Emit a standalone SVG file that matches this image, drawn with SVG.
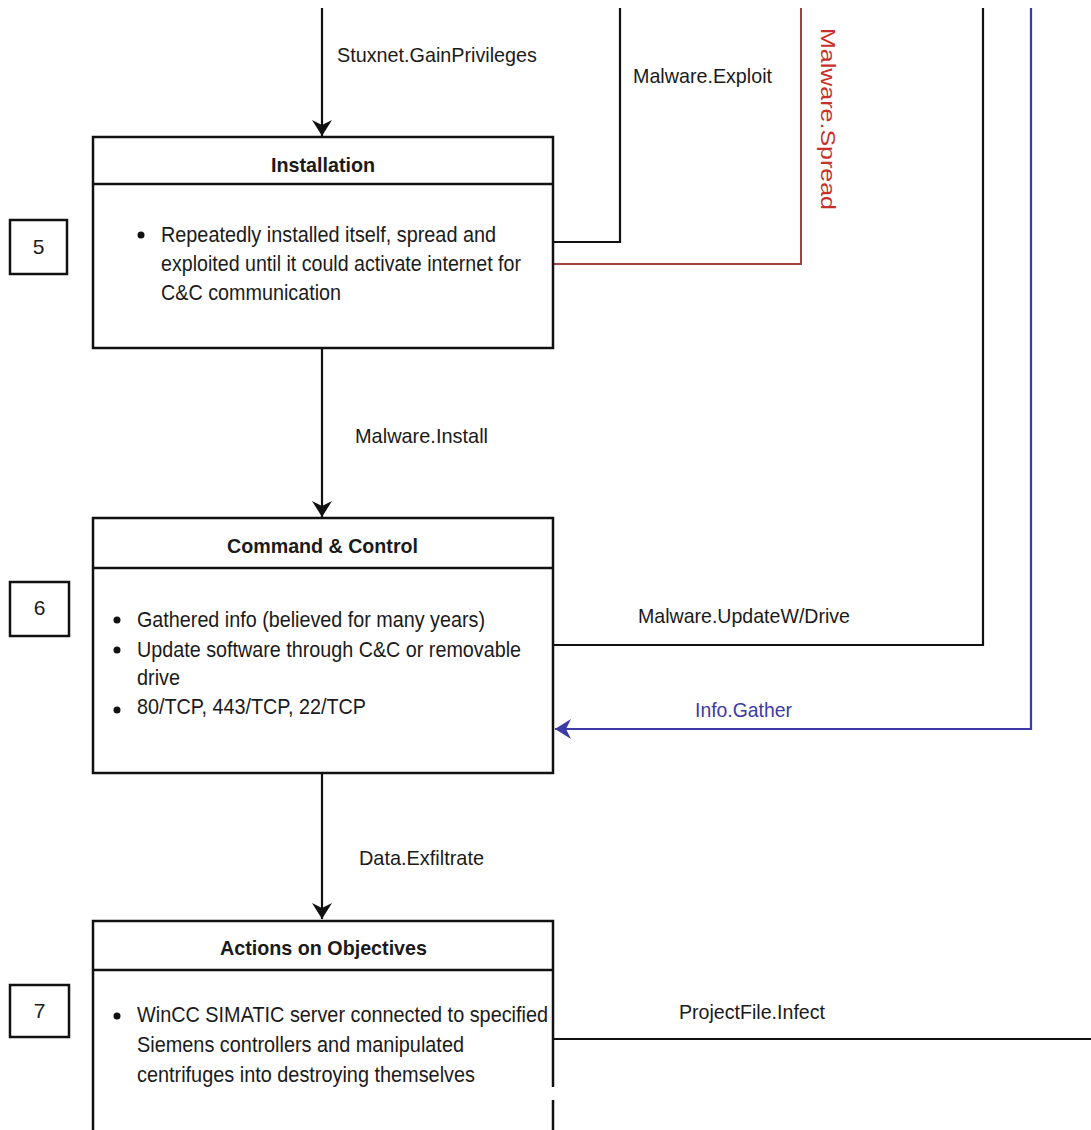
<svg xmlns="http://www.w3.org/2000/svg" width="1091" height="1130" viewBox="0 0 1091 1130">
  <style>
    text { font-family: "Liberation Sans", Arial, sans-serif; fill: #1a1a1a; }
    .title { font-size: 21px; font-weight: bold; }
    .body { font-size: 22px; }
    .lbl { font-size: 21px; }
    .num { font-size: 21px; text-anchor: middle; }
    .box { fill: #fff; stroke: #111; stroke-width: 2.5; }
    .div { stroke: #111; stroke-width: 2.5; }
    .wire { fill: none; stroke: #111; stroke-width: 2.2; }
    .red { fill: none; stroke: #a5403e; stroke-width: 2; }
    .blue { fill: none; stroke: #3b3ba6; stroke-width: 2.2; }
  </style>
  <defs>
    <marker id="arrowBlack" viewBox="0 0 16 20" refX="16" refY="10" markerWidth="16" markerHeight="20" markerUnits="userSpaceOnUse" orient="auto">
      <path d="M0,0 L16,10 L0,20 L5,10 Z" fill="#111"/>
    </marker>
    <marker id="arrowBlue" viewBox="0 0 16 20" refX="16" refY="10" markerWidth="16" markerHeight="20" markerUnits="userSpaceOnUse" orient="auto">
      <path d="M0,0 L16,10 L0,20 L5,10 Z" fill="#3b3ba6"/>
    </marker>
  </defs>
  <rect width="1091" height="1130" fill="#fff"/>

  <!-- connectors -->
  <g id="connectors">
    <line class="wire" x1="322" y1="8" x2="322" y2="136" marker-end="url(#arrowBlack)"/>
    <text class="lbl" x="337" y="62" textLength="200" lengthAdjust="spacingAndGlyphs">Stuxnet.GainPrivileges</text>

    <polyline class="wire" points="620,8 620,242 553,242"/>
    <text class="lbl" x="633" y="83" textLength="139" lengthAdjust="spacingAndGlyphs">Malware.Exploit</text>

    <polyline class="red" points="801,8 801,264 553,264"/>
    <text class="lbl" transform="translate(821,28) rotate(90)" textLength="182" lengthAdjust="spacingAndGlyphs" style="fill:#c8302c">Malware.Spread</text>

    <line class="wire" x1="322" y1="348" x2="322" y2="517" marker-end="url(#arrowBlack)"/>
    <text class="lbl" x="355" y="443" textLength="133" lengthAdjust="spacingAndGlyphs">Malware.Install</text>

    <polyline class="wire" points="983,8 983,645 553,645"/>
    <text class="lbl" x="638" y="623" textLength="212" lengthAdjust="spacingAndGlyphs">Malware.UpdateW/Drive</text>

    <polyline class="blue" points="1031,8 1031,729 555,729" marker-end="url(#arrowBlue)"/>
    <text class="lbl" x="695" y="717" textLength="97" lengthAdjust="spacingAndGlyphs" style="fill:#3b3ba6">Info.Gather</text>

    <line class="wire" x1="322" y1="773" x2="322" y2="919" marker-end="url(#arrowBlack)"/>
    <text class="lbl" x="359" y="865" textLength="125" lengthAdjust="spacingAndGlyphs">Data.Exfiltrate</text>

    <line class="wire" x1="553" y1="1039" x2="1091" y2="1039"/>
    <text class="lbl" x="679" y="1019" textLength="146" lengthAdjust="spacingAndGlyphs">ProjectFile.Infect</text>
  </g>

  <!-- step numbers -->
  <g id="step5">
    <rect class="box" x="10" y="220" width="57" height="54"/>
    <text class="num" x="38.5" y="254">5</text>
  </g>
  <g id="step6">
    <rect class="box" x="10" y="582" width="59" height="54"/>
    <text class="num" x="39.5" y="615">6</text>
  </g>
  <g id="step7">
    <rect class="box" x="10" y="985" width="59" height="52"/>
    <text class="num" x="39.5" y="1018">7</text>
  </g>

  <!-- Installation -->
  <g id="installation">
    <rect class="box" x="93" y="137" width="460" height="211"/>
    <line class="div" x1="93" y1="184" x2="553" y2="184"/>
    <text class="title" x="271" y="172" textLength="104" lengthAdjust="spacingAndGlyphs">Installation</text>
    <circle cx="141" cy="235" r="3.5" fill="#111"/>
    <text class="body" x="161" y="242" textLength="335" lengthAdjust="spacingAndGlyphs">Repeatedly installed itself, spread and</text>
    <text class="body" x="161" y="271" textLength="360" lengthAdjust="spacingAndGlyphs">exploited until it could activate internet for</text>
    <text class="body" x="161" y="300" textLength="180" lengthAdjust="spacingAndGlyphs">C&amp;C communication</text>
  </g>

  <!-- Command & Control -->
  <g id="command-control">
    <rect class="box" x="93" y="518" width="460" height="255"/>
    <line class="div" x1="93" y1="568" x2="553" y2="568"/>
    <text class="title" x="227" y="553" textLength="191" lengthAdjust="spacingAndGlyphs">Command &amp; Control</text>
    <circle cx="117" cy="620" r="3.5" fill="#111"/>
    <text class="body" x="137" y="627" textLength="348" lengthAdjust="spacingAndGlyphs">Gathered info (believed for many years)</text>
    <circle cx="117" cy="650" r="3.5" fill="#111"/>
    <text class="body" x="137" y="657" textLength="384" lengthAdjust="spacingAndGlyphs">Update software through C&amp;C or removable</text>
    <text class="body" x="137" y="685" textLength="43" lengthAdjust="spacingAndGlyphs">drive</text>
    <circle cx="117" cy="710" r="3.5" fill="#111"/>
    <text class="body" x="137" y="714" textLength="229" lengthAdjust="spacingAndGlyphs">80/TCP, 443/TCP, 22/TCP</text>
  </g>

  <!-- Actions on Objectives -->
  <g id="actions-objectives">
    <rect class="box" x="93" y="921" width="460" height="230"/>
    <line class="div" x1="93" y1="970" x2="553" y2="970"/>
    <rect x="550" y="1087" width="6" height="13" fill="#fff"/>
    <text class="title" x="220" y="955" textLength="207" lengthAdjust="spacingAndGlyphs">Actions on Objectives</text>
    <circle cx="117" cy="1016" r="3.5" fill="#111"/>
    <text class="body" x="137" y="1022" textLength="411" lengthAdjust="spacingAndGlyphs">WinCC SIMATIC server connected to specified</text>
    <text class="body" x="137" y="1052" textLength="327" lengthAdjust="spacingAndGlyphs">Siemens controllers and manipulated</text>
    <text class="body" x="137" y="1082" textLength="338" lengthAdjust="spacingAndGlyphs">centrifuges into destroying themselves</text>
  </g>
</svg>
